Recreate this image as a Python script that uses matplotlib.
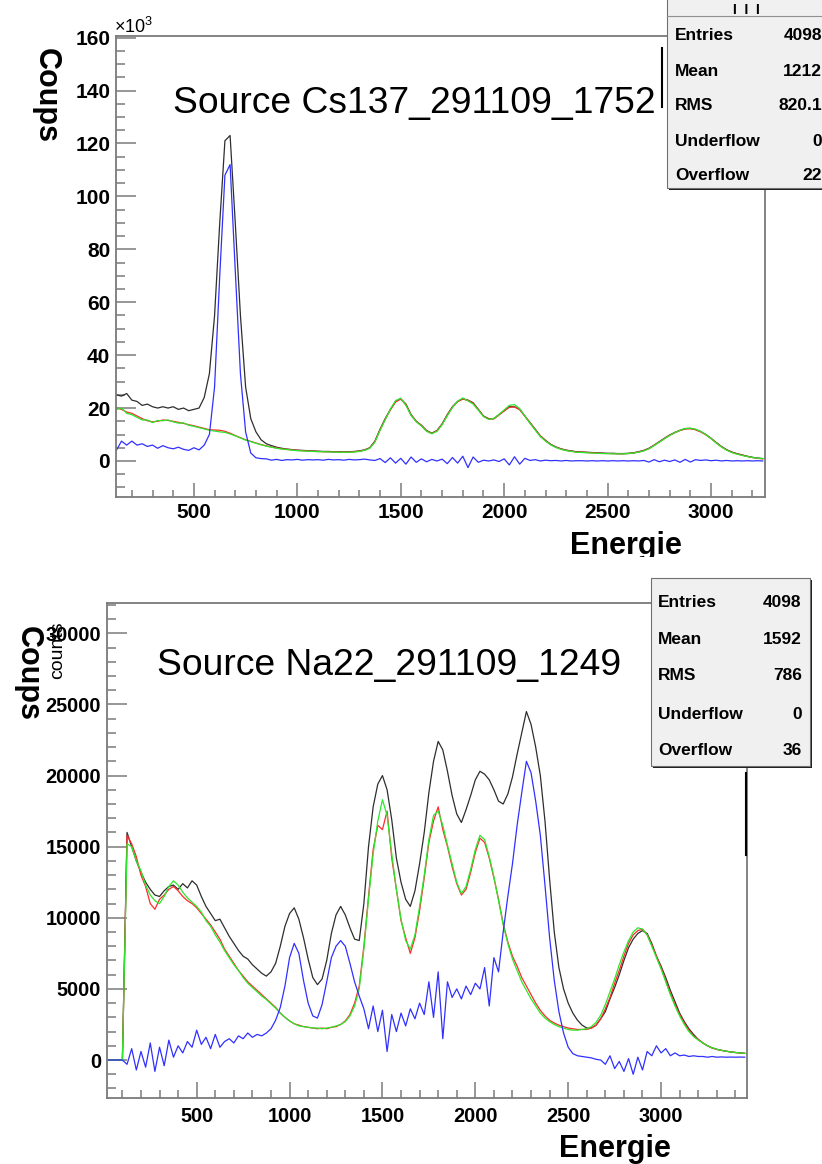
import numpy as np
import matplotlib
matplotlib.use("Agg")
import matplotlib.pyplot as plt
from matplotlib.patches import Rectangle
from matplotlib.lines import Line2D
from matplotlib.ticker import MultipleLocator
from matplotlib.transforms import Bbox

plt.rcParams['font.family'] = ['Liberation Sans', 'DejaVu Sans']
plt.rcParams['mathtext.fontset'] = 'custom'
plt.rcParams['mathtext.rm'] = 'Liberation Sans'
plt.rcParams['mathtext.it'] = 'Liberation Sans:italic'
plt.rcParams['mathtext.bf'] = 'Liberation Sans:bold'

# ---------------------------------------------------------------- data
# Panel 1 : Cs137 (counts in units of 10^3), bins every 25 energy units
cs_title = "Source Cs137_291109_1752"
cs_energy = np.arange(125, 3251, 25)
cs_black = [25.0, 24.5, 25.5, 23.0, 22.5, 21.0, 21.5, 20.5, 20.0, 20.5,
            20.0, 20.5, 19.5, 20.0, 19.0, 19.5, 20.0, 24.0, 33.0, 55.0,
            90.0, 121.0, 123.0, 90.0, 55.0, 28.0, 16.0, 11.0, 8.0, 6.5,
            5.8, 5.2, 4.8, 4.5, 4.3, 4.1, 4.0, 3.9, 3.8, 3.7,
            3.6, 3.6, 3.5, 3.5, 3.4, 3.5, 3.6, 3.8, 4.2, 5.0,
            7.5, 12.0, 16.0, 19.5, 22.5, 23.5, 21.5, 17.5, 15.0, 13.5,
            11.5, 10.5, 11.5, 14.0, 17.5, 20.5, 22.5, 23.5, 23.0, 22.0,
            19.5, 17.0, 16.0, 16.0, 17.5, 19.0, 20.5, 20.5, 19.5, 17.0,
            14.5, 12.0, 9.5, 7.8, 6.3, 5.3, 4.6, 4.1, 3.8, 3.5,
            3.4, 3.3, 3.2, 3.1, 3.0, 2.9, 2.9, 2.8, 2.8, 2.9,
            3.1, 3.5, 4.0, 4.8, 6.0, 7.3, 8.6, 9.8, 10.8, 11.6,
            12.2, 12.3, 11.9, 11.1, 10.0, 8.6, 7.0, 5.5, 4.3, 3.4,
            2.8, 2.3, 1.8, 1.4, 1.1, 0.9]
cs_red = [20.0, 19.5, 18.5, 18.0, 17.0, 16.0, 15.2, 14.8, 15.0, 15.5,
          15.3, 15.0, 14.6, 14.2, 13.7, 13.3, 12.8, 12.3, 11.8, 11.7,
          11.6, 11.2, 10.5, 9.6, 8.8, 8.0, 7.4, 6.8, 6.2, 5.7,
          5.3, 4.9, 4.6, 4.4, 4.2, 4.0, 3.9, 3.8, 3.7, 3.6,
          3.5, 3.5, 3.4, 3.4, 3.3, 3.4, 3.5, 3.7, 4.1, 4.9,
          7.3, 11.8, 15.8, 19.3, 22.3, 23.4, 21.3, 17.4, 15.0, 13.4,
          11.4, 10.4, 11.4, 13.9, 17.3, 20.4, 22.4, 23.4, 22.9, 21.8,
          19.4, 16.9, 15.9, 15.9, 17.4, 18.9, 20.3, 20.4, 19.4, 16.9,
          14.4, 11.9, 9.4, 7.7, 6.2, 5.2, 4.5, 4.0, 3.7, 3.4,
          3.3, 3.2, 3.1, 3.0, 2.9, 2.8, 2.8, 2.7, 2.7, 2.8,
          3.0, 3.4, 3.9, 4.7, 5.9, 7.2, 8.5, 9.7, 10.7, 11.5,
          12.1, 12.2, 11.8, 11.0, 9.9, 8.5, 6.9, 5.4, 4.2, 3.3,
          2.7, 2.2, 1.7, 1.3, 1.0, 0.8]
cs_green = [19.5, 20.0, 18.0, 17.5, 16.5, 15.5, 15.5, 14.5, 15.3, 15.2,
            15.5, 14.8, 14.3, 14.4, 13.5, 13.1, 12.6, 12.1, 11.6, 11.3,
            11.0, 10.8, 10.2, 9.5, 8.7, 7.9, 7.3, 6.7, 6.1, 5.6,
            5.2, 4.8, 4.5, 4.3, 4.1, 3.9, 3.8, 3.7, 3.6, 3.5,
            3.5, 3.4, 3.4, 3.3, 3.3, 3.3, 3.4, 3.6, 4.0, 4.8,
            7.1, 11.6, 15.6, 19.6, 22.8, 23.7, 21.0, 17.2, 14.8, 13.2,
            11.2, 10.3, 11.2, 13.7, 17.1, 20.2, 22.6, 23.8, 22.7, 21.5,
            19.2, 16.8, 15.7, 16.1, 17.6, 19.3, 21.0, 21.3, 19.8, 17.0,
            14.2, 11.7, 9.2, 7.5, 6.1, 5.1, 4.4, 3.9, 3.6, 3.3,
            3.2, 3.1, 3.0, 2.9, 2.8, 2.8, 2.7, 2.7, 2.7, 2.8,
            3.0, 3.3, 3.8, 4.6, 5.8, 7.1, 8.4, 9.6, 10.7, 11.6,
            12.3, 12.4, 12.0, 11.2, 10.0, 8.5, 6.8, 5.3, 4.1, 3.2,
            2.6, 2.1, 1.7, 1.3, 1.1, 0.9]
cs_blue = [4.0, 7.5, 6.0, 7.5, 6.0, 6.5, 5.5, 6.0, 4.8, 5.8,
           5.0, 4.6, 5.2, 4.4, 4.0, 5.0, 4.2, 6.0, 10.0, 28.0,
           70.0, 108.0, 112.0, 72.0, 33.0, 11.0, 3.0, 1.2, 0.9, 0.8,
           0.3, 0.6, 0.2, 0.5, 0.4, 0.6, 0.3, 0.5, 0.4, 0.5,
           0.3, 0.6, 0.4, 0.5, 0.3, 0.6, 0.4, 0.5, 0.7, 0.4,
           0.2, 0.9, -0.6, 1.2, -0.8, 1.0, -1.2, 1.5, -0.5, 0.8,
           -0.3, 0.6, 0.0, 0.7, -1.0, 1.3, -0.8, 1.8, -2.5, 1.5,
           -0.5, 0.3, 0.0, 0.4, -0.2, 0.8, -1.5, 1.6, -1.2, 1.0,
           0.2, 0.5, 0.0, 0.3, 0.1, 0.2, 0.0, 0.2, 0.0, 0.1,
           0.1, 0.0, 0.1, 0.0, 0.1, 0.0, 0.1, 0.0, 0.1, 0.0,
           0.1, 0.0, 0.2, -0.4, 0.5, -0.3, 0.3, -0.2, 0.4, -0.5,
           0.6, -0.4, 0.5, 0.2, 0.4, 0.1, 0.3, 0.0, 0.2, 0.0,
           0.1, 0.0, 0.1, 0.0, 0.1, 0.0]
cs_stats_labels = ["Entries", "Mean", "RMS", "Underflow", "Overflow"]
cs_stats_values = ["4098", "1212", "820.1", "0", "22"]
cs_xticks = [500, 1000, 1500, 2000, 2500, 3000]
cs_yticks = [0, 20, 40, 60, 80, 100, 120, 140, 160]

# Panel 2 : Na22 (counts), bins every 25 energy units
na_title = "Source Na22_291109_1249"
na_energy = np.arange(0, 3451, 25)
na_black = [0, 0, 0, 0, 0, 16000, 15000, 14000, 13200, 12500,
            12000, 11600, 11500, 11900, 12200, 12300, 12000, 12400, 12100, 12600,
            12300, 11500, 10800, 10300, 9800, 9900, 9300, 8700, 8200, 7700,
            7300, 7100, 6700, 6400, 6100, 5900, 6200, 6800, 8000, 9400,
            10300, 10700, 9900, 8600, 7100, 5800, 5300, 5700, 7000, 8900,
            10200, 10800, 10200, 9300, 8500, 8400, 11000, 15000, 17800, 19400,
            20000, 19000, 16900, 14200, 12500, 11300, 10800, 11900, 13800, 16000,
            18800, 21000, 22400, 21800, 20300, 18600, 17300, 16700, 17600, 18600,
            19700, 20300, 20100, 19700, 19000, 18200, 18000, 18700, 19900, 21500,
            23000, 24500, 23600, 22000, 20000, 16800, 12700, 9000, 6500, 5000,
            4000, 3300, 2800, 2450, 2250, 2250, 2450, 2900, 3400, 4300,
            5100, 6000, 7000, 7900, 8500, 8900, 9100, 8900, 8200, 7300,
            6600, 5800, 4900, 4100, 3300, 2700, 2200, 1800, 1450, 1200,
            1000, 850, 750, 680, 620, 570, 530, 500, 470]
na_red = [0, 0, 0, 0, 0, 15800, 15200, 14300, 13000, 12200,
          11000, 10600, 11300, 11600, 12000, 12200, 11900, 11500, 11200, 11000,
          10700, 10300, 9900, 9500, 9000, 8500, 7800, 7300, 6800, 6300,
          5900, 5500, 5200, 4900, 4600, 4300, 4000, 3700, 3300, 3000,
          2750, 2550, 2450, 2350, 2300, 2250, 2200, 2250, 2200, 2300,
          2350, 2500, 2750, 3200, 4000, 5200, 8000, 11500, 14800, 16500,
          16200, 17500, 14200, 12000, 9800, 8600, 7500, 8600, 10500, 12800,
          15300, 16800, 17800, 16200, 15000, 13600, 12400, 11600, 12000, 13200,
          14600, 15600, 15300, 14200, 12800, 11300, 9600, 8300, 7300, 6600,
          5800, 5200, 4600, 4000, 3500, 3100, 2800, 2600, 2450, 2350,
          2250, 2200, 2150, 2150, 2150, 2250, 2450, 2900, 3600, 4400,
          5400, 6300, 7300, 8200, 8800, 9100, 9200, 8800, 8100, 7300,
          6500, 5600, 4700, 3900, 3200, 2600, 2100, 1700, 1450, 1200,
          1000, 850, 750, 680, 620, 570, 530, 500, 470]
na_green = [0, 0, 0, 0, 0, 15200, 15000, 14000, 13300, 12300,
            11600, 11200, 11000, 11500, 12200, 12600, 12300, 11800, 11400, 11100,
            10800, 10400, 9800, 9400, 8800, 8300, 7700, 7200, 6700, 6300,
            5800, 5400, 5100, 4800, 4500, 4250, 3950, 3650, 3300, 3000,
            2750, 2550, 2400, 2350, 2300, 2250, 2250, 2200, 2250, 2300,
            2400, 2500, 2700, 3100, 3800, 5000, 7800, 11300, 14500, 16800,
            18300, 17200, 14500, 12000, 9900, 8400, 7800, 8800, 10800, 13000,
            15500, 17200, 17500, 16500, 15100, 13800, 12500, 11700, 12200, 13400,
            14800, 15800, 15500, 14300, 12900, 11200, 9500, 8200, 7100, 6300,
            5500, 4900, 4300, 3800, 3300, 2950, 2700, 2500, 2350, 2250,
            2150, 2100, 2100, 2150, 2200, 2350, 2650, 3150, 3900, 4800,
            5700, 6700, 7600, 8400, 9000, 9300, 9200, 8800, 8000, 7200,
            6400, 5500, 4600, 3800, 3100, 2500, 2000, 1650, 1400, 1200,
            1000, 870, 760, 680, 620, 570, 530, 500, 470]
na_blue = [0, 0, 0, 0, 0, -300, 800, -700, 600, -500,
           1200, -800, 900, -400, 1400, 200, 1000, 500, 1300, 900,
           2100, 1100, 1600, 800, 1800, 900, 1300, 1500, 1200, 1700,
           1500, 1900, 1600, 1800, 1700, 1900, 2200, 2800, 3700, 5200,
           7200, 8200, 7500, 5600, 4000, 3100, 2950, 3900, 5500, 7200,
           8000, 8400, 8000, 6800, 5500, 4500, 3600, 2200, 3800, 2000,
           3500, 600, 3200, 2000, 3300, 2400, 3600, 2900, 4000, 3200,
           5500, 3000, 6200, 1500, 5500, 4400, 5000, 4300, 5200, 4600,
           5400, 5000, 6500, 3800, 7200, 6200, 9000, 11500, 13800, 16500,
           18800, 21000, 20200, 18200, 15800, 12300, 8600, 5600, 3400, 1900,
           900, 450, 300, 250, 200, 150, 50, 0, -300, 300,
           -600, -100, -800, 100, -1000, 200, -700, 600, 300, 1000,
           500, 800, 300, 500, 300, 350, 250, 300, 250, 250,
           200, 250, 200, 220, 200, 210, 200, 210, 200]
na_stats_labels = ["Entries", "Mean", "RMS", "Underflow", "Overflow"]
na_stats_values = ["4098", "1592", "786", "0", "36"]
na_xticks = [500, 1000, 1500, 2000, 2500, 3000]
na_yticks = [0, 5000, 10000, 15000, 20000, 25000, 30000]

# ---------------------------------------------------------------- figure
W, H = 822, 1164
fig = plt.figure(figsize=(W / 100, H / 100), dpi=100)

def fx(x):
    return x / W

def fy(y):
    return 1 - y / H

def axes_px(left, top, right, bottom):
    return fig.add_axes([fx(left), fy(bottom), (right - left) / W, (bottom - top) / H])

BLACK, RED, GREEN, BLUE = '#2e2e2e', '#ff2a2a', '#2ae82a', '#3030ff'
FRAME = '#7a7a7a'
LW = 0.9

def style_axes(ax, xticks, yticks, ylabels, xminor, yminor, lab_size,
               ymaj, ymin, xmaj, xmin, xpad):
    for s in ax.spines.values():
        s.set_color(FRAME)
        s.set_linewidth(1.3)
    ax.set_xticks(xticks)
    ax.set_xticklabels([str(v) for v in xticks], fontsize=lab_size, fontweight='bold')
    ax.set_yticks(yticks)
    ax.set_yticklabels(ylabels, fontsize=lab_size, fontweight='bold')
    ax.xaxis.set_minor_locator(MultipleLocator(xminor))
    ax.yaxis.set_minor_locator(MultipleLocator(yminor))
    ax.tick_params(axis='y', which='major', direction='in', length=ymaj, width=1.1,
                   color=FRAME, pad=4)
    ax.tick_params(axis='y', which='minor', direction='in', length=ymin, width=1.1,
                   color=FRAME)
    ax.tick_params(axis='x', which='major', direction='in', length=xmaj, width=1.1,
                   color=FRAME, pad=xpad)
    ax.tick_params(axis='x', which='minor', direction='in', length=xmin, width=1.1,
                   color=FRAME)

# ---------------- panel 1
ax1 = axes_px(115.7, 36, 765, 496.7)
ax1.plot(cs_energy, cs_black, color=BLACK, lw=LW)
ax1.plot(cs_energy, cs_red, color=RED, lw=LW)
ax1.plot(cs_energy, cs_green, color=GREEN, lw=LW)
ax1.plot(cs_energy, cs_blue, color=BLUE, lw=LW)
ax1.set_xlim(122, 3261)
ax1.set_ylim(-13.5, 160.6)
style_axes(ax1, cs_xticks, cs_yticks, [str(v) for v in cs_yticks], 100, 5, 15,
           14.4, 6.7, 10, 4.8, 4.7)

# ---------------- panel 2
ax2 = axes_px(106.7, 603.3, 746.7, 1098.3)
ax2.plot(na_energy, na_black, color=BLACK, lw=LW)
ax2.plot(na_energy, na_red, color=RED, lw=LW)
ax2.plot(na_energy, na_green, color=GREEN, lw=LW)
ax2.plot(na_energy, na_blue, color=BLUE, lw=LW)
ax2.set_xlim(15.5, 3461)
ax2.set_ylim(-2690, 32110)
style_axes(ax2, na_xticks, na_yticks, [str(v) for v in na_yticks], 100, 1000, 14.3,
           14.4, 6.7, 11.3, 6, 6)

# ---------------- texts
fig.text(fx(173), fy(113), cs_title, fontsize=26.8, ha='left', va='baseline')
fig.text(fx(157), fy(675), na_title, fontsize=26.8, ha='left', va='baseline')

fig.text(fx(46), fy(95), "Coups", fontsize=22, fontweight='bold', rotation=-90,
         ha='center', va='center')
fig.text(fx(27.5), fy(673), "Coups", fontsize=22, fontweight='bold', rotation=-90,
         ha='center', va='center')
fig.text(fx(57.5), fy(650), "counts", fontsize=14, rotation=90,
         ha='center', va='center')
fig.text(fx(114), fy(33), r'$\times10^{3}$', fontsize=13, ha='left', va='baseline')

e1 = fig.text(fx(626), fy(554), "Energie", fontsize=22, fontweight='bold',
              ha='center', va='baseline')
e1.set_clip_box(Bbox.from_extents(0, H - 557, W, H))
e1.set_clip_on(True)
fig.text(fx(615), fy(1157), "Energie", fontsize=22, fontweight='bold',
         ha='center', va='baseline')

# ---------------- statistics boxes
def stats_box(x0, y0, x1, y1, labels, values, lab_x, val_x, row_y):
    fig.add_artist(Rectangle((fx(x0 + 2), fy(y1 + 2)), (x1 - x0) / W, (y1 - y0) / H,
                             transform=fig.transFigure, facecolor='#1e1e1e',
                             edgecolor='none'))
    fig.add_artist(Rectangle((fx(x0), fy(y1)), (x1 - x0) / W, (y1 - y0) / H,
                             transform=fig.transFigure, facecolor='#f0f0f0',
                             edgecolor='#707070', linewidth=0.8))
    for lab, val, y in zip(labels, values, row_y):
        fig.text(fx(lab_x), fy(y), lab, fontsize=12.5, fontweight='bold',
                 ha='left', va='center')
        fig.text(fx(val_x), fy(y), val, fontsize=12.5, fontweight='bold',
                 ha='right', va='center')

stats_box(667, -6, 840, 188, cs_stats_labels, cs_stats_values, 675, 822,
          [36, 71, 106, 141, 175])
fig.add_artist(Line2D([fx(667), fx(822)], [fy(16), fy(16)], transform=fig.transFigure,
                      color='#909090', lw=0.8))
fig.text(fx(733), fy(13.5), "I  I  I", fontsize=10, fontweight='bold',
         ha='left', va='baseline')

stats_box(650.7, 578, 809.7, 766, na_stats_labels, na_stats_values, 658, 801.7,
          [602.7, 639.3, 675.7, 714.3, 750.7])

# black marker bars
fig.add_artist(Line2D([fx(662), fx(662)], [fy(48), fy(107)], transform=fig.transFigure,
                      color='black', lw=1.5))
fig.add_artist(Line2D([fx(745.5), fx(745.5)], [fy(773), fy(855)],
                      transform=fig.transFigure, color='black', lw=1.5))

fig.savefig("out.png", dpi=100)
